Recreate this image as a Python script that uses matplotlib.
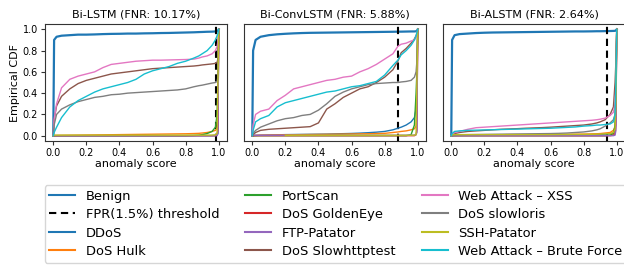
import numpy as np
import matplotlib
matplotlib.use("Agg")
import matplotlib.pyplot as plt

# ---------------- data ----------------
models = ["Bi-LSTM", "Bi-ConvLSTM", "Bi-ALSTM"]
fnr = ["10.17%", "5.88%", "2.64%"]
thresholds = [0.985, 0.88, 0.94]

classes = ["Benign", "DDoS", "DoS Hulk", "PortScan", "DoS GoldenEye", "FTP-Patator",
           "DoS Slowhttptest", "Web Attack \u2013 XSS", "DoS slowloris", "SSH-Patator",
           "Web Attack \u2013 Brute Force"]

score_grid = [0, 0.005, 0.02, 0.05, 0.1, 0.15, 0.2, 0.25, 0.3, 0.35, 0.4, 0.45, 0.5, 0.55,
              0.6, 0.65, 0.7, 0.75, 0.8, 0.85, 0.88, 0.9, 0.93, 0.96, 0.98, 0.99, 0.995, 1.0]

nan = float("nan")

bilstm_cdf = {
    "Benign": [0, 0.90, 0.93, 0.94, 0.945, 0.95, 0.95, 0.952, 0.955, 0.957, 0.958, 0.96, 0.96, 0.962,
               0.963, 0.965, 0.966, 0.968, 0.97, 0.972, 0.974, 0.975, 0.977, 0.978, 0.98, 0.982, 0.985, 1.0],
    "DDoS": [0, 0, 0, 0, 0, 0, 0, 0, 0, 0, 0, 0, 0, 0, 0, 0, 0, 0, 0, 0, 0, 0, 0, 0, 0.002, 0.005, 0.02, 1.0],
    "DoS Hulk": [0, 0.001, 0.002, 0.003, 0.004, 0.005, 0.006, 0.007, 0.008, 0.009, 0.01, 0.011, 0.012, 0.013,
                 0.014, 0.015, 0.016, 0.017, 0.018, 0.02, 0.022, 0.025, 0.03, 0.04, 0.05, 0.07, 0.1, 1.0],
    "PortScan": [0, 0, 0, 0, 0, 0, 0, 0, 0, 0, 0, 0, 0, 0, 0, 0, 0, 0, 0, 0.002, 0.005, 0.01, 0.02, 0.04,
                 0.08, 0.2, 0.5, 1.0],
    "DoS GoldenEye": [0, 0, 0, 0, 0, 0, 0, 0, 0, 0, 0, 0, 0, 0, 0, 0, 0, 0, 0, 0, 0, 0, 0, 0, 0, 0.01, 0.05, 1.0],
    "FTP-Patator": [0, 0, 0, 0, 0, 0, 0, 0, 0, 0, 0, 0, 0, 0, 0, 0, 0, 0, 0, 0, 0, 0, 0, 0, 0, 0, 0.02, 1.0],
    "DoS Slowhttptest": [0, 0.15, 0.28, 0.37, 0.44, 0.49, 0.52, 0.54, 0.56, 0.58, 0.59, 0.6, 0.61, 0.62,
                         0.63, 0.635, 0.64, 0.645, 0.65, 0.655, 0.66, 0.665, 0.67, 0.675, 0.68, 0.69, 0.72, 1.0],
    "Web Attack \u2013 XSS": [0, 0.15, 0.3, 0.45, 0.53, 0.56, 0.58, 0.6, 0.64, 0.67, 0.68, 0.69, 0.7, 0.705,
                              0.71, 0.71, 0.712, 0.714, 0.716, 0.72, 0.73, 0.74, 0.75, 0.77, 0.8, 0.84, 0.88, 1.0],
    "DoS slowloris": [0, 0.1, 0.2, 0.25, 0.29, 0.32, 0.34, 0.36, 0.37, 0.385, 0.39, 0.4, 0.405, 0.41,
                      0.415, 0.42, 0.425, 0.43, 0.44, 0.46, 0.47, 0.475, 0.485, 0.495, 0.5, 0.51, 0.55, 1.0],
    "SSH-Patator": [0, 0.005, 0.005, 0.005, 0.005, 0.005, 0.005, 0.005, 0.005, 0.005, 0.005, 0.005, 0.005, 0.005,
                    0.005, 0.005, 0.005, 0.005, 0.005, 0.005, 0.005, 0.005, 0.005, 0.006, 0.008, 0.02, 0.5, 1.0],
    "Web Attack \u2013 Brute Force": [0, 0.03, 0.08, 0.17, 0.27, 0.33, 0.37, 0.41, 0.44, 0.46, 0.48, 0.5, 0.53,
                                      0.58, 0.61, 0.63, 0.65, 0.68, 0.7, 0.73, 0.75, 0.77, 0.8, 0.85, 0.9, 0.94,
                                      0.96, 1.0],
}

biconvlstm_cdf = {
    "Benign": [0, 0.8, 0.9, 0.93, 0.945, 0.953, 0.958, 0.962, 0.965, 0.967, 0.968, 0.969, 0.97, 0.971,
               0.972, 0.973, 0.974, 0.975, 0.976, 0.977, 0.978, 0.978, 0.979, 0.98, 0.98, 0.982, 0.985, 1.0],
    "DDoS": [0, 0, 0.002, 0.004, 0.006, 0.008, 0.01, 0.011, 0.012, 0.013, 0.014, 0.015, 0.017, 0.019,
             0.021, 0.024, 0.028, 0.033, 0.04, 0.055, 0.07, 0.08, 0.1, 0.13, 0.17, 0.25, 0.4, 1.0],
    "DoS Hulk": [0, 0.001, 0.003, 0.005, 0.006, 0.007, 0.008, 0.009, 0.01, 0.011, 0.012, 0.013, 0.014, 0.015,
                 0.016, 0.017, 0.018, 0.02, 0.022, 0.03, 0.035, 0.04, 0.045, 0.055, 0.065, 0.09, 0.2, 1.0],
    "PortScan": [0, 0, 0, 0, 0, 0, 0, 0, 0, 0, 0, 0, 0, 0, 0, 0, 0, 0, 0, 0, 0, 0, 0, 0.01, 0.1, 0.4,
                 0.6, 1.0],
    "DoS GoldenEye": [0, 0, 0, 0, 0, 0, 0, 0, 0, 0, 0, 0, 0, 0, 0, 0, 0, 0, 0, 0, 0, 0, 0, 0, 0, 0.01, 0.05, 1.0],
    "FTP-Patator": [0, 0.004, 0.004, 0.004, 0.004, 0.004, 0.004, 0.004, 0.004, 0.004, 0.004, 0.004, 0.004,
                    0.004, 0.004, 0.004, 0.004, 0.004, 0.004, 0.004, 0.004, 0.004, 0.004, 0.004, 0.005, 0.01,
                    0.03, 1.0],
    "DoS Slowhttptest": [0, 0.01, 0.03, 0.05, 0.06, 0.065, 0.07, 0.075, 0.08, 0.085, 0.12, 0.25, 0.3, 0.36,
                         0.4, 0.44, 0.46, 0.5, 0.55, 0.62, 0.7, 0.78, 0.82, 0.87, 0.91, 0.94, 0.96, 1.0],
    "Web Attack \u2013 XSS": [0, 0.1, 0.2, 0.23, 0.25, 0.33, 0.38, 0.44, 0.46, 0.48, 0.5, 0.52, 0.53, 0.55,
                              0.56, 0.6, 0.63, 0.67, 0.72, 0.77, 0.84, 0.86, 0.87, 0.89, 0.9, 0.93, 0.95, 1.0],
    "DoS slowloris": [0, 0.02, 0.05, 0.08, 0.11, 0.14, 0.16, 0.17, 0.19, 0.2, 0.24, 0.3, 0.37, 0.41,
                      0.44, 0.46, 0.48, 0.49, 0.495, 0.5, 0.5, 0.505, 0.51, 0.52, 0.55, 0.6, 0.7, 1.0],
    "SSH-Patator": [nan, nan, nan, nan, nan, nan, 0.003, 0.004, 0.004, 0.004, 0.004, 0.004, 0.004, 0.004,
                    0.004, 0.004, 0.004, 0.004, 0.004, 0.004, 0.004, 0.004, 0.004, 0.004, 0.005, 0.01, 0.5, 1.0],
    "Web Attack \u2013 Brute Force": [0, 0.05, 0.13, 0.16, 0.19, 0.27, 0.31, 0.33, 0.35, 0.37, 0.39, 0.41, 0.42,
                                      0.44, 0.46, 0.47, 0.49, 0.51, 0.57, 0.66, 0.71, 0.76, 0.8, 0.85, 0.9, 0.94,
                                      0.97, 1.0],
}

bialstm_cdf = {
    "Benign": [0, 0.9, 0.945, 0.955, 0.96, 0.965, 0.968, 0.97, 0.971, 0.972, 0.973, 0.974, 0.975, 0.976,
               0.977, 0.978, 0.979, 0.98, 0.98, 0.981, 0.982, 0.982, 0.983, 0.984, 0.985, 0.986, 0.99, 1.0],
    "DDoS": [0, 0, 0.001, 0.002, 0.003, 0.003, 0.004, 0.004, 0.005, 0.005, 0.005, 0.006, 0.006, 0.006,
             0.007, 0.007, 0.008, 0.008, 0.009, 0.01, 0.011, 0.012, 0.014, 0.018, 0.025, 0.05, 0.2, 1.0],
    "DoS Hulk": [0, 0.002, 0.004, 0.006, 0.007, 0.008, 0.008, 0.009, 0.009, 0.01, 0.01, 0.01, 0.011, 0.011,
                 0.012, 0.012, 0.013, 0.014, 0.015, 0.017, 0.018, 0.02, 0.025, 0.03, 0.05, 0.08, 0.2, 1.0],
    "PortScan": [0, 0, 0, 0, 0, 0, 0, 0, 0, 0, 0, 0, 0, 0, 0, 0, 0, 0, 0, 0, 0, 0, 0, 0.005, 0.02, 0.1,
                 0.4, 1.0],
    "DoS GoldenEye": [0, 0, 0, 0, 0, 0, 0, 0, 0, 0, 0, 0, 0, 0, 0, 0, 0, 0, 0, 0, 0, 0, 0, 0, 0.005, 0.02, 0.1, 1.0],
    "FTP-Patator": [0, 0, 0, 0, 0, 0, 0, 0, 0, 0, 0, 0, 0, 0, 0, 0, 0, 0, 0, 0, 0, 0, 0, 0, 0, 0.005, 0.05, 1.0],
    "DoS Slowhttptest": [0, 0.01, 0.02, 0.03, 0.04, 0.045, 0.05, 0.055, 0.06, 0.063, 0.066, 0.07, 0.073, 0.076,
                         0.08, 0.085, 0.09, 0.095, 0.1, 0.11, 0.12, 0.13, 0.15, 0.2, 0.27, 0.5, 0.7, 1.0],
    "Web Attack \u2013 XSS": [0, 0.01, 0.03, 0.04, 0.06, 0.075, 0.08, 0.085, 0.09, 0.095, 0.1, 0.105, 0.11,
                              0.115, 0.12, 0.125, 0.13, 0.135, 0.14, 0.145, 0.15, 0.155, 0.165, 0.19, 0.22, 0.3,
                              0.5, 1.0],
    "DoS slowloris": [0, 0.002, 0.005, 0.008, 0.01, 0.011, 0.012, 0.013, 0.014, 0.015, 0.016, 0.017, 0.018,
                      0.019, 0.02, 0.022, 0.025, 0.03, 0.035, 0.045, 0.055, 0.065, 0.09, 0.12, 0.15, 0.2, 0.4, 1.0],
    "SSH-Patator": [0, 0.008, 0.01, 0.01, 0.01, 0.01, 0.01, 0.01, 0.01, 0.01, 0.01, 0.01, 0.01, 0.01,
                    0.01, 0.011, 0.011, 0.012, 0.012, 0.013, 0.014, 0.015, 0.017, 0.02, 0.03, 0.06, 0.3, 1.0],
    "Web Attack \u2013 Brute Force": [0, 0.02, 0.04, 0.045, 0.05, 0.052, 0.054, 0.056, 0.058, 0.06, 0.062,
                                      0.064, 0.066, 0.068, 0.07, 0.074, 0.078, 0.082, 0.09, 0.095, 0.1, 0.1,
                                      0.105, 0.11, 0.13, 0.2, 0.5, 1.0],
}

all_cdfs = [bilstm_cdf, biconvlstm_cdf, bialstm_cdf]

# ---------------- style ----------------
colors = {"Benign": "C0", "DDoS": "C0", "DoS Hulk": "C1", "PortScan": "C2", "DoS GoldenEye": "C3",
          "FTP-Patator": "C4", "DoS Slowhttptest": "C5", "Web Attack \u2013 XSS": "C6",
          "DoS slowloris": "C7", "SSH-Patator": "C8", "Web Attack \u2013 Brute Force": "C9"}

plt.rcParams["font.family"] = ["DejaVu Sans"]
fig = plt.figure(figsize=(6.24, 2.66), dpi=100)

W = 624.0
H = 266.0
lefts = [45, 244, 443]
ax_w = 182
ax_bottom = (H - 141) / H
ax_h = 117 / H

handles = None
for i, (name, cdf) in enumerate(zip(models, all_cdfs)):
    ax = fig.add_axes([lefts[i] / W, ax_bottom, ax_w / W, ax_h])
    hs = []
    for c in classes:
        lw = 1.6 if c == "Benign" else 1.0
        (ln,) = ax.plot(score_grid, cdf[c], color=colors[c], lw=lw, label=c)
        hs.append(ln)
        if c == "Benign":
            th = ax.axvline(thresholds[i], color="black", ls=(0, (3.5, 2.2)), lw=1.5,
                            label="FPR(1.5%) threshold")
            hs.append(th)
    if handles is None:
        handles = hs
    ax.set_xlim(-0.05, 1.05)
    ax.set_ylim(-0.05, 1.05)
    ax.set_xticks([0.0, 0.2, 0.4, 0.6, 0.8, 1.0])
    ax.tick_params(labelsize=7, length=3, width=0.8, pad=2, color="#333333")
    ax.set_xlabel("anomaly score", fontsize=8, labelpad=1)
    ax.set_title(f"{name} (FNR: {fnr[i]})", fontsize=8, pad=5)
    for s in ax.spines.values():
        s.set_color("#333333")
    if i == 0:
        ax.set_yticks([0.0, 0.2, 0.4, 0.6, 0.8, 1.0])
        ax.set_ylabel("Empirical CDF", fontsize=8, labelpad=2)
    else:
        ax.set_yticks([])

leg = fig.legend(handles=handles, labels=[h.get_label() for h in handles], ncol=3,
                 loc="upper left", bbox_to_anchor=(44.5 / W, 1 - 185 / H), borderaxespad=0,
                 fontsize=9.4, frameon=True, handlelength=2.0, columnspacing=2.0,
                 labelspacing=0.42, borderpad=0.35)
for h in leg.legend_handles:
    h.set_linewidth(1.5)

fig.savefig("out.png", dpi=100)
